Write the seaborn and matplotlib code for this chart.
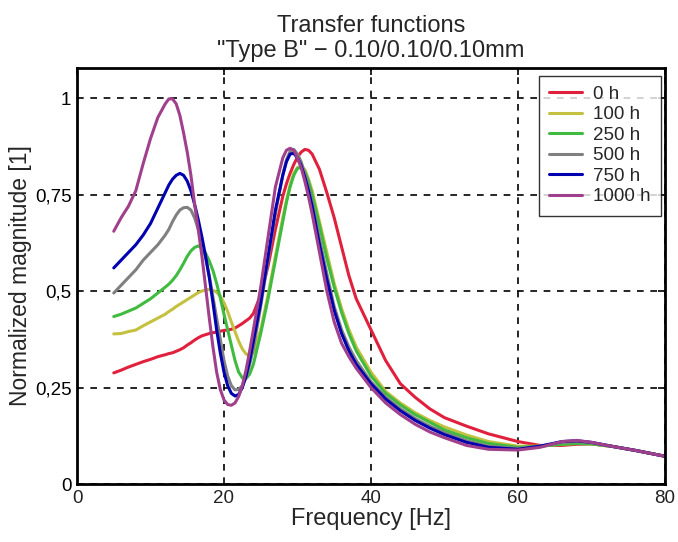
import numpy as np
import pandas as pd
import matplotlib
matplotlib.use("Agg")
import matplotlib.pyplot as plt
import seaborn as sns

freq = [5, 6, 7, 8, 9, 10, 11, 12,
        12.5, 13, 13.5, 14, 14.5, 15, 15.5, 16, 16.5, 17, 17.5, 18, 18.5, 19, 19.5, 20,
        20.5, 21, 21.5, 22, 22.5, 23, 23.5, 24,
        25, 26, 27, 28,
        28.5, 29, 29.5, 30, 30.5, 31, 31.5,
        32, 33, 34, 35, 36, 37, 38,
        40, 42, 44, 46, 48, 50,
        53, 56, 60, 63, 66, 68, 70, 73, 76, 80]

h0 = [0.288, 0.295, 0.303, 0.310, 0.317, 0.323, 0.330, 0.335,
      0.338, 0.340, 0.344, 0.348, 0.353, 0.360, 0.366, 0.373, 0.379, 0.384, 0.387, 0.390,
      0.392, 0.394, 0.396, 0.398, 0.399, 0.401, 0.404, 0.410, 0.416, 0.423, 0.430, 0.442,
      0.490, 0.565, 0.660, 0.745,
      0.778, 0.805, 0.828, 0.847, 0.860, 0.867, 0.865,
      0.855, 0.815, 0.755, 0.690, 0.615, 0.540, 0.480,
      0.400, 0.320, 0.260, 0.225, 0.195, 0.172,
      0.150, 0.130, 0.110, 0.100, 0.100, 0.103, 0.104, 0.097, 0.087, 0.072]
h100 = [0.389, 0.390, 0.395, 0.399, 0.410, 0.420, 0.430, 0.440,
        0.447, 0.453, 0.460, 0.466, 0.472, 0.478, 0.484, 0.490, 0.496, 0.500, 0.503, 0.504,
        0.502, 0.497, 0.487, 0.470, 0.447, 0.420, 0.395, 0.370, 0.350, 0.337, 0.333, 0.340,
        0.400, 0.490, 0.590, 0.690,
        0.735, 0.775, 0.805, 0.820, 0.823, 0.815, 0.790,
        0.760, 0.680, 0.600, 0.520, 0.455, 0.400, 0.355,
        0.290, 0.240, 0.210, 0.185, 0.165, 0.148,
        0.127, 0.110, 0.098, 0.098, 0.103, 0.105, 0.104, 0.097, 0.087, 0.072]
h250 = [0.434, 0.440, 0.448, 0.456, 0.468, 0.480, 0.495, 0.510,
        0.518, 0.528, 0.540, 0.555, 0.572, 0.590, 0.604, 0.613, 0.617, 0.612, 0.598, 0.578,
        0.553, 0.520, 0.482, 0.440, 0.400, 0.360, 0.320, 0.290, 0.275, 0.273, 0.285, 0.310,
        0.390, 0.480, 0.580, 0.680,
        0.730, 0.770, 0.800, 0.818, 0.820, 0.810, 0.785,
        0.750, 0.670, 0.585, 0.510, 0.445, 0.390, 0.345,
        0.280, 0.235, 0.205, 0.180, 0.160, 0.140,
        0.120, 0.105, 0.095, 0.098, 0.103, 0.105, 0.104, 0.097, 0.087, 0.072]
h500 = [0.495, 0.515, 0.535, 0.555, 0.580, 0.600, 0.620, 0.645,
        0.660, 0.680, 0.697, 0.710, 0.716, 0.717, 0.710, 0.690, 0.660, 0.625, 0.585, 0.540,
        0.485, 0.430, 0.375, 0.320, 0.280, 0.255, 0.244, 0.245, 0.255, 0.275, 0.310, 0.350,
        0.460, 0.580, 0.700, 0.800,
        0.840, 0.862, 0.867, 0.855, 0.835, 0.805, 0.770,
        0.730, 0.635, 0.545, 0.460, 0.400, 0.355, 0.320,
        0.265, 0.225, 0.195, 0.170, 0.150, 0.133,
        0.112, 0.098, 0.092, 0.098, 0.108, 0.110, 0.107, 0.097, 0.087, 0.072]
h750 = [0.560, 0.580, 0.600, 0.620, 0.645, 0.675, 0.715, 0.755,
        0.775, 0.790, 0.800, 0.805, 0.800, 0.785, 0.760, 0.725, 0.685, 0.640, 0.590, 0.535,
        0.470, 0.400, 0.340, 0.290, 0.255, 0.235, 0.228, 0.232, 0.250, 0.280, 0.320, 0.370,
        0.470, 0.590, 0.710, 0.800,
        0.835, 0.855, 0.857, 0.845, 0.825, 0.795, 0.760,
        0.720, 0.620, 0.530, 0.450, 0.390, 0.345, 0.310,
        0.260, 0.220, 0.190, 0.165, 0.145, 0.128,
        0.108, 0.095, 0.090, 0.098, 0.110, 0.112, 0.108, 0.097, 0.087, 0.072]
h1000 = [0.655, 0.690, 0.720, 0.760, 0.830, 0.895, 0.950, 0.985,
         0.998, 0.998, 0.985, 0.955, 0.910, 0.860, 0.800, 0.725, 0.660, 0.590, 0.510, 0.430,
         0.355, 0.290, 0.245, 0.218, 0.206, 0.204, 0.210, 0.227, 0.255, 0.295, 0.345, 0.400,
         0.510, 0.640, 0.770, 0.845,
         0.865, 0.870, 0.865, 0.845, 0.820, 0.785, 0.745,
         0.700, 0.600, 0.500, 0.420, 0.365, 0.330, 0.300,
         0.250, 0.210, 0.180, 0.155, 0.135, 0.120,
         0.100, 0.090, 0.088, 0.095, 0.110, 0.113, 0.108, 0.097, 0.087, 0.072]

labels = ["0 h", "100 h", "250 h", "500 h", "750 h", "1000 h"]
series = [h0, h100, h250, h500, h750, h1000]
colors = ["#e0203c", "#c4c040", "#40bb40", "#808080", "#0000b0", "#a0408c"]

yticks = [0, 0.25, 0.5, 0.75, 1]
ytick_labels = ["0", "0,25", "0,5", "0,75", "1"]
xticks = [0, 20, 40, 60, 80]

rows = []
for lab, vals in zip(labels, series):
    for f, v in zip(freq, vals):
        rows.append({"Frequency": f, "Magnitude": v, "Aging": lab})
df = pd.DataFrame(rows)

sns.set_style("white")
plt.rcParams['font.family'] = ['Liberation Sans', 'DejaVu Sans']

fig = plt.figure(figsize=(6.78, 5.42), dpi=100)
ax = fig.add_axes([0.1136, 0.107, 0.867, 0.7675])

sns.lineplot(data=df, x="Frequency", y="Magnitude", hue="Aging", hue_order=labels,
             palette=colors, linewidth=2.2, ax=ax, sort=True, estimator=None)
for ln in ax.get_lines():
    ln.set_solid_joinstyle("round")
    ln.set_solid_capstyle("round")

ax.set_xlim(0, 80)
ax.set_ylim(0, 1.078)
ax.set_xticks(xticks)
ax.set_xticklabels([str(t) for t in xticks])
ax.set_yticks(yticks)
ax.set_yticklabels(ytick_labels)
ax.grid(True, color="black", linestyle=(0, (4, 4)), linewidth=1.2)
ax.set_axisbelow(True)
for s in ax.spines.values():
    s.set_color("black")
    s.set_linewidth(2)
ax.tick_params(direction="in", length=5, width=1.2, labelsize=13.5, colors="black",
               top=True, right=True, pad=4)
ax.tick_params(axis="x", labelcolor="#222222")
ax.set_xlabel("Frequency [Hz]", fontsize=17, labelpad=1)
ax.set_ylabel("Normalized magnitude [1]", fontsize=16.5, labelpad=2)
ax.set_title("Transfer functions\n\"Type B\" \u2212 0.10/0.10/0.10mm", fontsize=17,
             linespacing=1.18, pad=8)

leg = ax.legend(loc="upper right", bbox_to_anchor=(0.994, 0.982), borderaxespad=0,
                fontsize=13.5, frameon=True, fancybox=False, edgecolor="black",
                handlelength=1.75, labelspacing=0.18, handletextpad=0.6, borderpad=0.55)
leg.get_frame().set_linewidth(1)
for line in leg.get_lines():
    line.set_linewidth(2.2)

fig.savefig("out.png", dpi=100)
